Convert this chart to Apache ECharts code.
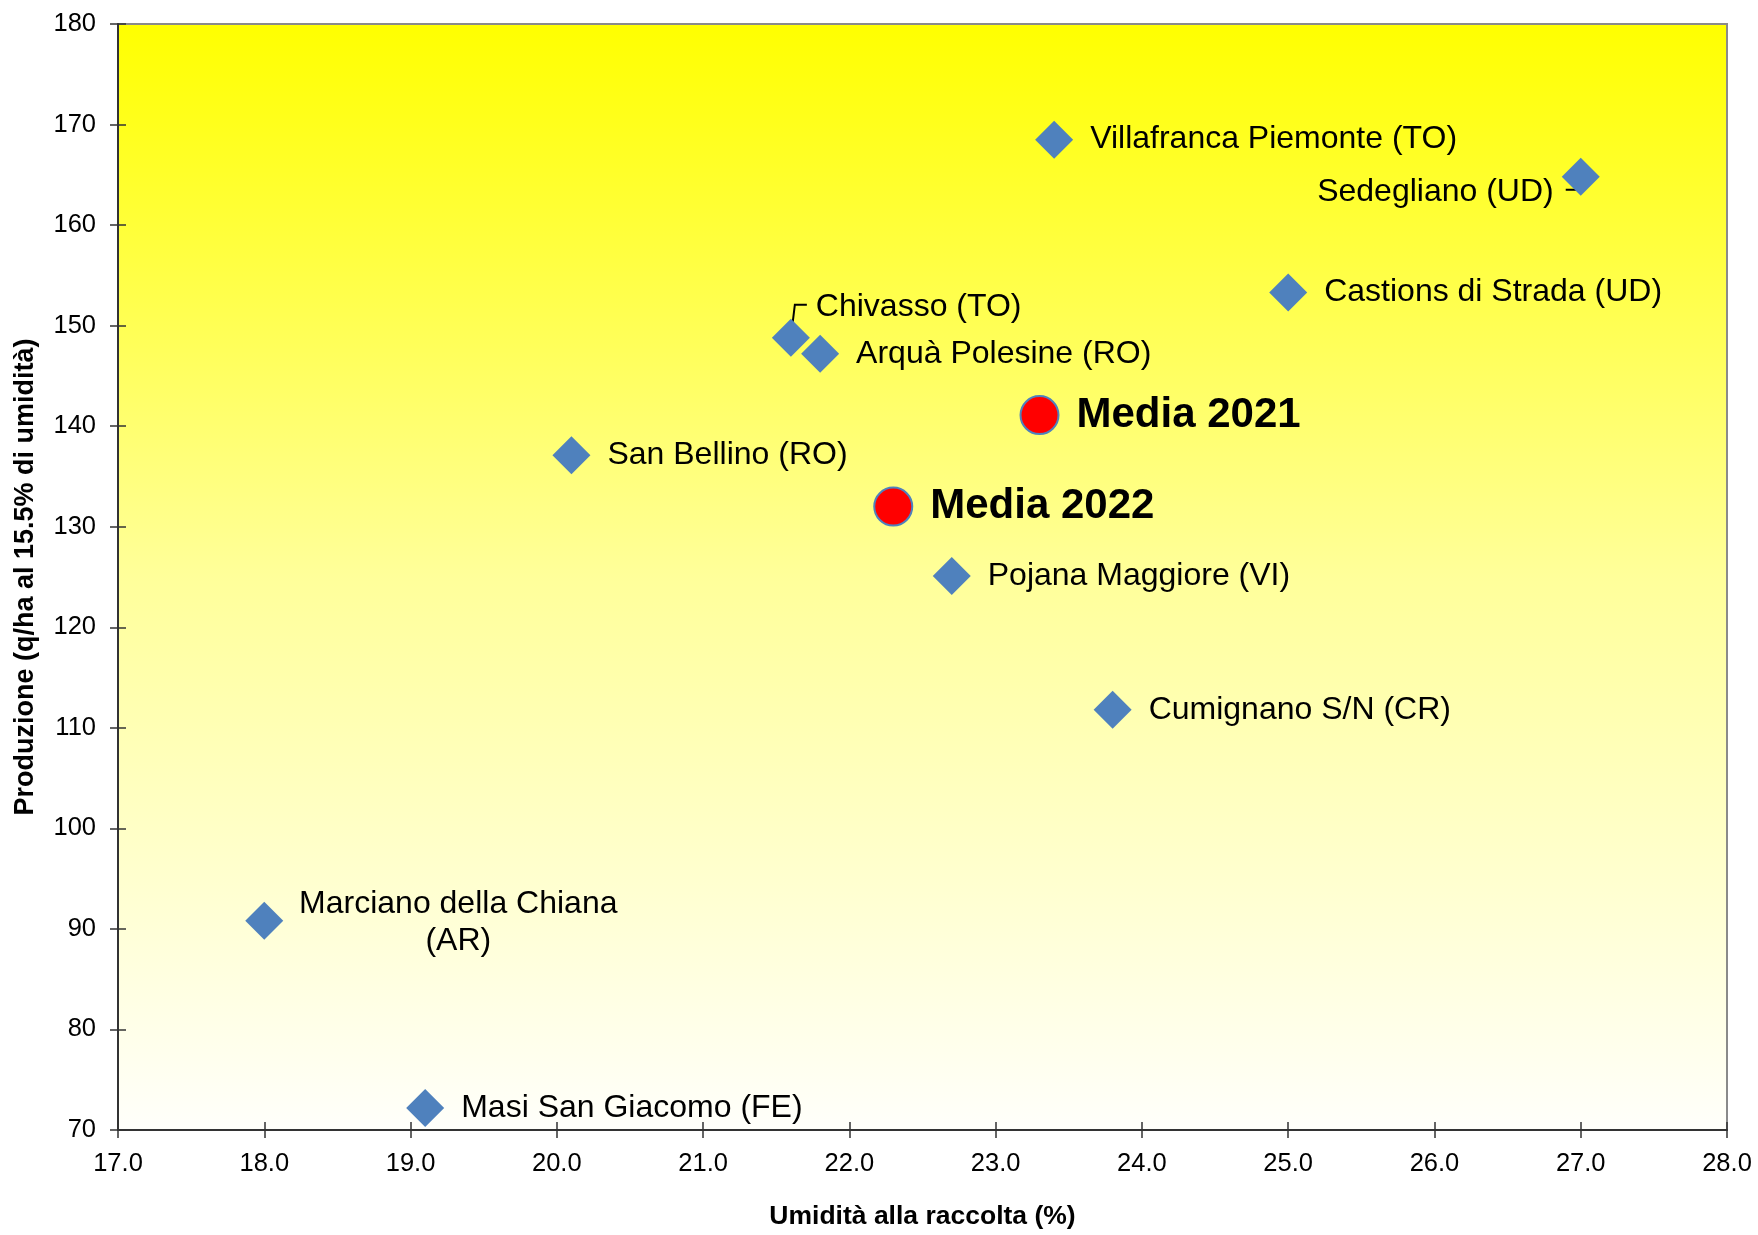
<!DOCTYPE html>
<html>
<head>
<meta charset="utf-8">
<script src="https://cdn.jsdelivr.net/npm/echarts@6/dist/echarts.min.js"></script>
<style>
html,body{margin:0;padding:0;background:#fff;}
#chart{width:1758px;height:1235px;}
</style>
</head>
<body>
<div id="chart"></div>
<script>
// ---- Data ----
const siteNames = [
  'Villafranca Piemonte (TO)', 'Sedegliano (UD)', 'Castions di Strada (UD)',
  'Chivasso (TO)', 'Arquà Polesine (RO)', 'San Bellino (RO)',
  'Pojana Maggiore (VI)', 'Cumignano S/N (CR)', 'Marciano della Chiana\n(AR)',
  'Masi San Giacomo (FE)'
];
const siteHumidity = [23.4, 27.0, 25.0, 21.6, 21.8, 20.1, 22.7, 23.8, 18.0, 19.1];
const siteYield    = [168.5, 164.8, 153.3, 148.8, 147.2, 137.1, 125.1, 111.8, 90.8, 72.2];

const meanNames = ['Media 2021', 'Media 2022'];
const meanHumidity = [23.3, 22.3];
const meanYield = [141.1, 132.0];

const xTicks = {min: 17, max: 28, interval: 1};
const yTicks = {min: 70, max: 180, interval: 10};

// ---- Label styling (positions in pixels, not data) ----
const FONT = 'Liberation Sans, Arial, sans-serif';
const labelOverrides = {
  'Sedegliano (UD)': {position: 'left', distance: 8, offset: [0, 15]},
  'Chivasso (TO)': {position: 'right', distance: 6, offset: [0, -31]},
  'Marciano della Chiana\n(AR)': {position: [213, 21], align: 'center', verticalAlign: 'middle', lineHeight: 37}
};
// leader lines: pixel polyline relative to the marker centre
const leaderLines = {
  'Sedegliano (UD)': [[0, 0], [-5, 13], [-15, 13]],
  'Chivasso (TO)': [[0, 0], [4, -33], [16, -33]]
};

const siteData = siteNames.map((n, i) => {
  const item = {name: n, value: [siteHumidity[i], siteYield[i]]};
  if (labelOverrides[n]) item.label = labelOverrides[n];
  return item;
});
const meanData = meanNames.map((n, i) => ({name: n, value: [meanHumidity[i], meanYield[i]]}));
const leaderData = siteNames.map((n, i) => ({name: n, value: [siteHumidity[i], siteYield[i]]}))
  .filter(d => leaderLines[d.name]);

const chart = echarts.init(document.getElementById('chart'), null, {renderer: 'canvas'});

const axisCommon = {
  axisLine: {show: true, lineStyle: {color: '#333', width: 2}},
  splitLine: {show: false}
};

chart.setOption({
  animation: false,
  backgroundColor: '#ffffff',
  grid: {
    left: 118, right: 31, top: 24, bottom: 98,
    show: true,
    borderColor: '#8a8a8a', borderWidth: 2,
    backgroundColor: new echarts.graphic.LinearGradient(0, 0, 0, 1, [
      {offset: 0, color: '#ffff00'},
      {offset: 0.5, color: '#ffff9a'},
      {offset: 1, color: '#fffffb'}
    ])
  },
  xAxis: [
    Object.assign({}, axisCommon, {
      type: 'value', position: 'bottom',
      min: xTicks.min, max: xTicks.max, interval: xTicks.interval,
      name: 'Umidità alla raccolta (%)', nameLocation: 'middle', nameGap: 73,
      nameTextStyle: {fontFamily: FONT, fontSize: 26.5, fontWeight: 'bold', color: '#000'},
      axisTick: {show: true, inside: false, length: 8, lineStyle: {color: '#333', width: 1.5}},
      axisLabel: {fontFamily: FONT, fontSize: 25.5, color: '#000', margin: 21,
        formatter: v => v.toFixed(1)}
    }),
    {
      type: 'value', position: 'bottom',
      min: xTicks.min, max: xTicks.max, interval: xTicks.interval,
      axisLine: {show: false}, splitLine: {show: false}, axisLabel: {show: false},
      axisTick: {show: true, inside: true, length: 8, lineStyle: {color: '#333', width: 1.5}}
    }
  ],
  yAxis: [
    Object.assign({}, axisCommon, {
      type: 'value', position: 'left',
      min: yTicks.min, max: yTicks.max, interval: yTicks.interval,
      name: 'Produzione (q/ha al 15.5% di umidità)', nameLocation: 'middle', nameGap: 79,
      nameTextStyle: {fontFamily: FONT, fontSize: 27, fontWeight: 'bold', color: '#000'},
      axisTick: {show: true, inside: false, length: 8, lineStyle: {color: '#333', width: 1.5}},
      axisLabel: {fontFamily: FONT, fontSize: 25.5, color: '#000', margin: 22}
    }),
    {
      type: 'value', position: 'left',
      min: yTicks.min, max: yTicks.max, interval: yTicks.interval,
      axisLine: {show: false}, splitLine: {show: false}, axisLabel: {show: false},
      axisTick: {show: true, inside: true, length: 8, lineStyle: {color: '#333', width: 1.5}}
    }
  ],
  series: [
    {
      type: 'custom',
      xAxisIndex: 0, yAxisIndex: 0,
      data: leaderData,
      silent: true,
      z: 1,
      renderItem: function (params, api) {
        const c = api.coord([api.value(0), api.value(1)]);
        const name = leaderData[params.dataIndex].name;
        const pts = leaderLines[name].map(p => [c[0] + p[0], c[1] + p[1]]);
        return {
          type: 'polyline',
          shape: {points: pts},
          style: {stroke: '#000', lineWidth: 2, fill: null}
        };
      }
    },
    {
      type: 'scatter',
      xAxisIndex: 0, yAxisIndex: 0,
      symbol: 'diamond',
      symbolSize: 38,
      z: 2,
      itemStyle: {color: '#4f81bd', opacity: 1},
      label: {
        show: true, position: 'right', distance: 17,
        formatter: p => p.name,
        fontFamily: FONT, fontSize: 32, color: '#000', opacity: 1
      },
      data: siteData
    },
    {
      type: 'scatter',
      xAxisIndex: 0, yAxisIndex: 0,
      symbol: 'circle',
      symbolSize: 38,
      z: 3,
      itemStyle: {color: '#ff0000', borderColor: '#4f81bd', borderWidth: 2, opacity: 1},
      label: {
        show: true, position: 'right', distance: 17,
        formatter: p => p.name,
        fontFamily: FONT, fontSize: 42, fontWeight: 'bold', color: '#000', opacity: 1
      },
      data: meanData
    }
  ]
});
</script>
</body>
</html>
